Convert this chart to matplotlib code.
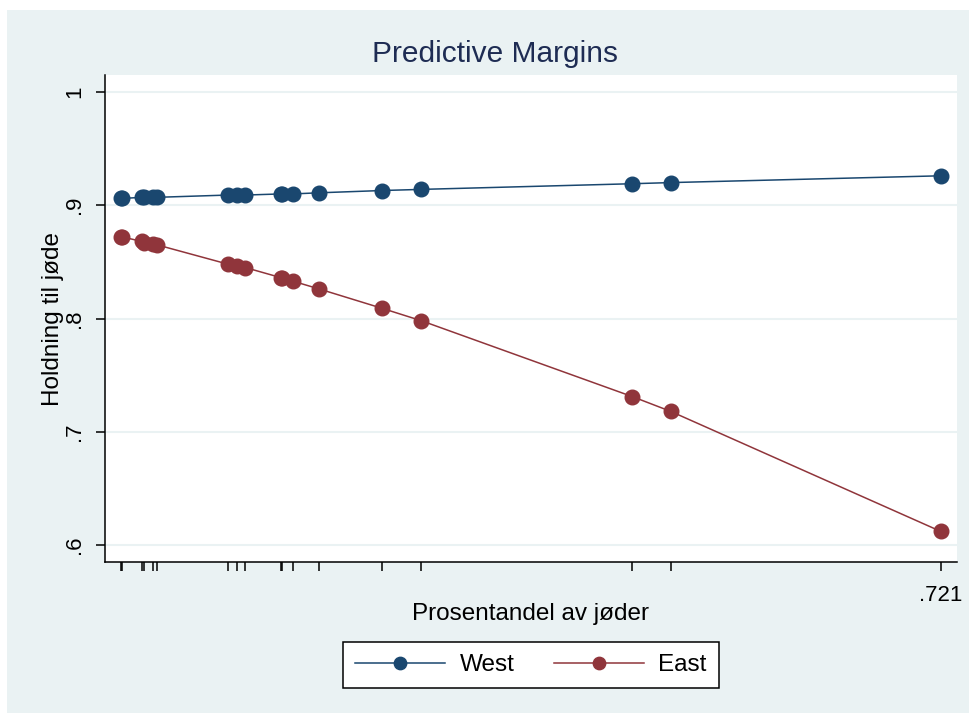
import matplotlib
matplotlib.use('Agg')
import matplotlib.pyplot as plt
from matplotlib.patches import Rectangle

plt.rcParams['font.family'] = ['Liberation Sans', 'DejaVu Sans']
plt.rcParams['axes.linewidth'] = 1.1
plt.rcParams['xtick.major.size'] = 6.5
plt.rcParams['ytick.major.size'] = 6.5
plt.rcParams['xtick.major.width'] = 1.1
plt.rcParams['ytick.major.width'] = 1.1

# Data
andel = [0.014, 0.015, 0.032, 0.034, 0.041, 0.045, 0.106, 0.114, 0.121,
         0.152, 0.153, 0.162, 0.185, 0.239, 0.273, 0.455, 0.488, 0.721]
west = [0.906, 0.906, 0.907, 0.907, 0.907, 0.907, 0.909, 0.909, 0.909,
        0.910, 0.910, 0.910, 0.911, 0.913, 0.914, 0.919, 0.920, 0.926]
east = [0.872, 0.872, 0.868, 0.867, 0.866, 0.865, 0.848, 0.846, 0.845,
        0.836, 0.836, 0.833, 0.826, 0.809, 0.798, 0.731, 0.718, 0.612]
y_ticks = [0.6, 0.7, 0.8, 0.9, 1.0]
y_labels = ['.6', '.7', '.8', '.9', '1']
x_labels = [''] * (len(andel) - 1) + ['.721']

bg = '#eaf2f3'
col_west = '#1a476f'
col_east = '#90353b'

fig = plt.figure(figsize=(9.7, 7.13), dpi=100, facecolor='white')
fig.patches.append(Rectangle((7 / 970, 0), 1, 703 / 713, transform=fig.transFigure,
                             facecolor=bg, edgecolor='none', zorder=-5))

ax = fig.add_axes([105 / 970, 1 - 562 / 713, 852 / 970, 487 / 713])
ax.set_facecolor('white')

ax.plot(andel, west, color=col_west, lw=1.1, marker='o', ms=10.5, label='West', zorder=3)
ax.plot(andel, east, color=col_east, lw=1.1, marker='o', ms=10.5, label='East', zorder=3)

ax.set_xlim(0, 0.735)
ax.set_ylim(0.585, 1.015)
ax.set_yticks(y_ticks)
ax.set_yticklabels(y_labels, rotation=90, va='center', fontsize=16)
ax.set_xticks(andel)
ax.set_xticklabels(x_labels, fontsize=16)
ax.tick_params(axis='x', pad=10)
ax.tick_params(axis='y', pad=8)
ax.grid(True, axis='y', color=bg, lw=1.5, zorder=1)
ax.set_axisbelow(True)

for side in ['top', 'right']:
    ax.spines[side].set_visible(False)

ax.set_xlabel('Prosentandel av jøder', fontsize=17.5, labelpad=-2)
ax.set_ylabel('Holdning til jøde', fontsize=17.5, labelpad=0)

fig.text(495 / 970, 1 - 54 / 713, 'Predictive Margins', fontsize=21.5,
         color='#1e2c53', ha='center', va='center')

leg = fig.legend(loc='center', bbox_to_anchor=(531 / 970, 1 - 665 / 713), ncol=2,
                 fontsize=17.5, numpoints=1, markerscale=0.85, handlelength=3.7,
                 handletextpad=0.6, columnspacing=1.6, borderpad=0.5,
                 fancybox=False, frameon=True, edgecolor='black', framealpha=1)
leg.get_frame().set_linewidth(1.1)

plt.savefig('out.png', dpi=100, facecolor=fig.get_facecolor())
